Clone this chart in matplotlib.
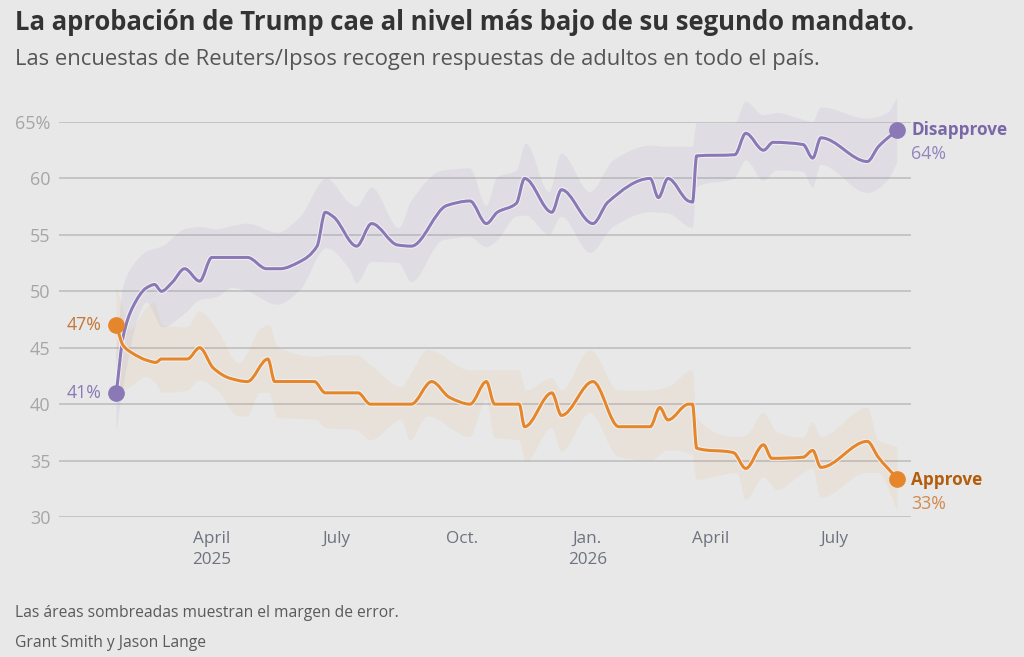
import matplotlib.pyplot as plt
import matplotlib.dates as mdates
import matplotlib.patheffects as pe
from matplotlib.path import Path
from matplotlib.patches import PathPatch
import numpy as np
import pandas as pd

plt.rcParams['font.family'] = ['Open Sans', 'DejaVu Sans']

# poll series (smoothed average)
disapprove_dates = ['2025-01-21', '2025-01-26', '2025-02-02', '2025-02-12', '2025-02-18', '2025-02-23',
                    '2025-03-03', '2025-03-12', '2025-03-23', '2025-04-01', '2025-04-27', '2025-05-11',
                    '2025-05-21', '2025-06-04', '2025-06-17', '2025-06-23', '2025-06-29', '2025-07-16',
                    '2025-07-27', '2025-08-15', '2025-08-25', '2025-09-20', '2025-10-07', '2025-10-19',
                    '2025-10-27', '2025-11-10', '2025-11-16', '2025-12-06', '2025-12-13', '2026-01-05',
                    '2026-01-16', '2026-02-16', '2026-02-22', '2026-03-01', '2026-03-16', '2026-03-19',
                    '2026-03-22', '2026-04-19', '2026-04-27', '2026-05-10', '2026-05-17', '2026-06-08',
                    '2026-06-15', '2026-06-21', '2026-07-25', '2026-08-02', '2026-08-16']
disapprove = [41, 46, 48.6, 50.3, 50.6, 50, 50.8, 52, 50.9, 53, 53, 52,
              52, 52.6, 54, 57, 56.6, 54, 56, 54.1, 54, 57.6, 58, 56,
              57, 57.8, 60, 57, 59, 56, 57.9, 60, 58.3, 60, 58, 57.9,
              62, 62.1, 64, 62.5, 63.2, 63, 61.8, 63.6, 61.5, 62.8, 64.3]

approve_dates = ['2025-01-21', '2025-01-26', '2025-02-02', '2025-02-12', '2025-02-19', '2025-02-23',
                 '2025-03-14', '2025-03-23', '2025-04-02', '2025-04-14', '2025-04-27', '2025-05-12',
                 '2025-05-17', '2025-06-15', '2025-06-23', '2025-07-17', '2025-07-26', '2025-08-25',
                 '2025-09-09', '2025-09-22', '2025-10-07', '2025-10-19', '2025-10-25', '2025-11-12',
                 '2025-11-16', '2025-12-06', '2025-12-13', '2026-01-05', '2026-01-24', '2026-02-16',
                 '2026-02-23', '2026-03-01', '2026-03-16', '2026-03-19', '2026-03-22', '2026-04-18',
                 '2026-04-27', '2026-05-10', '2026-05-16', '2026-06-08', '2026-06-15', '2026-06-21',
                 '2026-07-25', '2026-08-02', '2026-08-16']
approve = [47, 45.2, 44.5, 43.9, 43.7, 44, 44, 45, 43.2, 42.3, 42, 44,
           42, 42, 41, 41, 40, 40, 42, 40.6, 40, 42, 40, 40,
           38, 41, 39, 42, 38, 38, 39.7, 38.6, 40, 40, 36.1, 35.7,
           34.3, 36.4, 35.2, 35.3, 35.9, 34.4, 36.7, 35.3, 33.4]

# margin of error bands
dis_band_dates = ['2025-01-21', '2025-01-26', '2025-02-07', '2025-02-12', '2025-02-24', '2025-03-12',
                  '2025-03-23', '2025-04-05', '2025-04-16', '2025-04-27', '2025-05-19', '2025-06-04',
                  '2025-06-24', '2025-07-11', '2025-07-16', '2025-07-27', '2025-08-16', '2025-08-25',
                  '2025-09-17', '2025-10-07', '2025-10-19', '2025-10-27', '2025-11-10', '2025-11-17',
                  '2025-12-04', '2025-12-13', '2026-01-03', '2026-01-20', '2026-02-16', '2026-03-01',
                  '2026-03-19', '2026-03-22', '2026-04-19', '2026-04-27', '2026-05-10', '2026-05-20',
                  '2026-06-08', '2026-06-15', '2026-06-21', '2026-07-25', '2026-08-09', '2026-08-16']
dis_low = [37.5, 41.5, 48, 49, 46.8, 48, 49.2, 49.5, 50.3, 50, 48.8, 50,
           53.8, 51.9, 50.7, 52.6, 52.5, 50.8, 54.5, 54.8, 53.9, 54.5, 56.6, 56.7,
           55, 56.6, 53.4, 55.7, 57, 56.9, 55.6, 59.2, 60, 61.6, 59.8, 60.7,
           60.6, 59.2, 61.2, 58.7, 59.8, 61.4]
dis_high = [44.5, 50.4, 53, 53.5, 54, 55.5, 55.7, 55.5, 55.8, 56, 55.2, 56.5,
            60, 57.8, 57.5, 59.2, 55.6, 58, 60.7, 60.9, 57.6, 60.1, 60.7, 63.1,
            58.8, 62.2, 58.8, 61.6, 62.9, 62.8, 62.8, 64.9, 64.9, 66.8, 65.6, 65.8,
            65.2, 65, 66.3, 65.3, 65.8, 67.2]

app_band_dates = ['2025-01-21', '2025-01-26', '2025-01-31', '2025-02-12', '2025-02-18', '2025-02-24',
                  '2025-03-14', '2025-03-23', '2025-04-05', '2025-04-21', '2025-04-27', '2025-05-06',
                  '2025-05-13', '2025-05-19', '2025-06-17', '2025-06-23', '2025-07-16', '2025-07-26',
                  '2025-08-18', '2025-08-24', '2025-09-06', '2025-10-07', '2025-10-19', '2025-10-25',
                  '2025-11-12', '2025-11-17', '2025-12-06', '2025-12-13', '2026-01-03', '2026-01-24',
                  '2026-02-16', '2026-03-01', '2026-03-19', '2026-03-22', '2026-04-21', '2026-04-27',
                  '2026-05-10', '2026-05-20', '2026-06-08', '2026-06-15', '2026-06-21', '2026-07-25',
                  '2026-08-02', '2026-08-16']
app_low = [43.5, 41.2, 41.5, 42.4, 42, 41, 41.2, 42.1, 41.2, 38.9, 38.9, 41,
           41, 38.8, 38.6, 37.9, 37.7, 36.8, 38.6, 36.8, 38.9, 37.1, 40.4, 37,
           36.8, 34.9, 37.9, 35.8, 39.2, 35.3, 35, 35.9, 35.5, 33.3, 33.9, 31.5,
           33.5, 32.4, 33.9, 34.3, 31.7, 33.9, 33.9, 30.6]
app_high = [50.4, 48.5, 46.6, 48.5, 49, 47, 46.8, 48.2, 46.6, 43.6, 44.5, 46.6,
            47, 45.1, 44.2, 44.3, 44.3, 43.5, 41.5, 42.5, 44.8, 43, 43, 43,
            43, 41.2, 42.3, 41.2, 44.8, 41.2, 41.2, 41.5, 43, 38.8, 37.1, 37.2,
            39.2, 37.5, 37, 38.4, 37.1, 39.7, 36.8, 36.2]

tick_dates = ['2025-04-01', '2025-07-01', '2025-10-01', '2026-01-01', '2026-04-01', '2026-07-01']
tick_labels = ['April\n2025', 'July', 'Oct.', 'Jan.\n2026', 'April', 'July']
y_ticks = [30, 35, 40, 45, 50, 55, 60, 65]

BG = '#e8e8e8'
PURPLE = '#8b78b6'
ORANGE = '#e5862b'


def monotone_verts(dates, vals):
    # monotone-x cubic curve through the points, as bezier control vertices
    x = mdates.date2num(pd.to_datetime(dates))
    y = np.asarray(vals, dtype=float)
    h = np.diff(x)
    s = np.diff(y) / h
    m = np.zeros_like(y)
    m[0], m[-1] = s[0], s[-1]
    for i in range(1, len(y) - 1):
        if s[i - 1] * s[i] > 0:
            w1 = 2 * h[i] + h[i - 1]
            w2 = h[i] + 2 * h[i - 1]
            m[i] = (w1 + w2) / (w1 / s[i - 1] + w2 / s[i])
    verts = [(x[0], y[0])]
    for i in range(len(h)):
        d = h[i] / 3
        verts += [(x[i] + d, y[i] + m[i] * d), (x[i + 1] - d, y[i + 1] - m[i + 1] * d), (x[i + 1], y[i + 1])]
    return verts


def curve_path(dates, vals):
    v = monotone_verts(dates, vals)
    return Path(v, [Path.MOVETO] + [Path.CURVE4] * (len(v) - 1))


def band_path(dates, lo, hi):
    up = monotone_verts(dates, hi)
    down = monotone_verts(dates, lo)[::-1]
    verts = up + down + [up[0]]
    codes = [Path.MOVETO] + [Path.CURVE4] * (len(up) - 1) + [Path.LINETO] + \
        [Path.CURVE4] * (len(down) - 1) + [Path.CLOSEPOLY]
    return Path(verts, codes)


fig = plt.figure(figsize=(10.24, 6.57), dpi=100)
fig.patch.set_facecolor(BG)
ax = fig.add_axes([59 / 1024, 140 / 657, 852 / 1024, 395 / 657])
ax.set_facecolor(BG)

dd = pd.to_datetime(disapprove_dates)
ad = pd.to_datetime(approve_dates)

ax.add_patch(PathPatch(band_path(dis_band_dates, dis_low, dis_high), facecolor=PURPLE, alpha=0.09,
                       lw=0, clip_on=False, zorder=1))
ax.add_patch(PathPatch(band_path(app_band_dates, app_low, app_high), facecolor=ORANGE, alpha=0.07,
                       lw=0, clip_on=False, zorder=1))

halo = [pe.Stroke(linewidth=3.6, foreground='#f2f2f2'), pe.Normal()]
for dates, vals, c in [(disapprove_dates, disapprove, PURPLE), (approve_dates, approve, ORANGE)]:
    ax.add_patch(PathPatch(curve_path(dates, vals), fill=False, edgecolor=c, lw=2.2,
                           joinstyle='round', path_effects=halo, zorder=3, clip_on=False))

# end dots
for d, v, c in [(dd[0], disapprove[0], PURPLE), (dd[-1], disapprove[-1], PURPLE),
                (ad[0], approve[0], ORANGE), (ad[-1], approve[-1], ORANGE)]:
    ax.plot([d], [v], 'o', ms=11, color=c, zorder=4, clip_on=False)

ax.set_xlim(pd.Timestamp('2024-12-10'), pd.Timestamp('2026-08-26'))
ax.set_ylim(30, 65)
ax.set_yticks(y_ticks)
ax.set_yticklabels([f'{v}%' if v == 65 else str(v) for v in y_ticks])
ax.set_xticks(pd.to_datetime(tick_dates))
ax.set_xticklabels(tick_labels, linespacing=1.45)
ax.tick_params(axis='y', length=0, pad=6, labelsize=13, labelcolor='#a6a6a6')
ax.tick_params(axis='x', length=0, pad=10, labelsize=12.3, labelcolor='#6e7380')
ax.grid(axis='y', color='#c5c5c5', lw=1.4)
ax.set_axisbelow(True)
for s in ax.spines.values():
    s.set_visible(False)

# start labels
ax.annotate('47%', (ad[0], approve[0]), xytext=(-11, 0), textcoords='offset points',
            ha='right', va='center', fontsize=12.8, color='#c27733')
ax.annotate('41%', (dd[0], disapprove[0]), xytext=(-11, 0), textcoords='offset points',
            ha='right', va='center', fontsize=12.8, color='#8b78b6')

# end labels
ax.annotate('Disapprove', (dd[-1], disapprove[-1]), xytext=(10, 0), textcoords='offset points',
            ha='left', va='center', fontsize=12.3, fontweight='bold', color='#7a67a8', annotation_clip=False)
ax.annotate('64%', (dd[-1], disapprove[-1]), xytext=(10, -17), textcoords='offset points',
            ha='left', va='center', fontsize=12.8, color='#9384bd', annotation_clip=False)
ax.annotate('Approve', (ad[-1], approve[-1]), xytext=(10, -1), textcoords='offset points',
            ha='left', va='center', fontsize=12.3, fontweight='bold', color='#b35d0c', annotation_clip=False)
ax.annotate('33%', (ad[-1], approve[-1]), xytext=(10, -18), textcoords='offset points',
            ha='left', va='center', fontsize=12.8, color='#d18a4e', annotation_clip=False)

fig.text(15 / 1024, 1 - 30 / 657, 'La aprobación de Trump cae al nivel más bajo de su segundo mandato.',
         fontsize=18.45, fontweight='bold', color='#333333', va='baseline')
fig.text(15 / 1024, 1 - 65 / 657, 'Las encuestas de Reuters/Ipsos recogen respuestas de adultos en todo el país.',
         fontsize=15.8, color='#555555', va='baseline')
fig.text(15 / 1024, 1 - 617 / 657, 'Las áreas sombreadas muestran el margen de error.',
         fontsize=11.25, color='#5a5a5a', va='baseline')
fig.text(15 / 1024, 1 - 647 / 657, 'Grant Smith y Jason Lange',
         fontsize=11.25, color='#5a5a5a', va='baseline')

fig.savefig('out.png', dpi=100, facecolor=BG)
